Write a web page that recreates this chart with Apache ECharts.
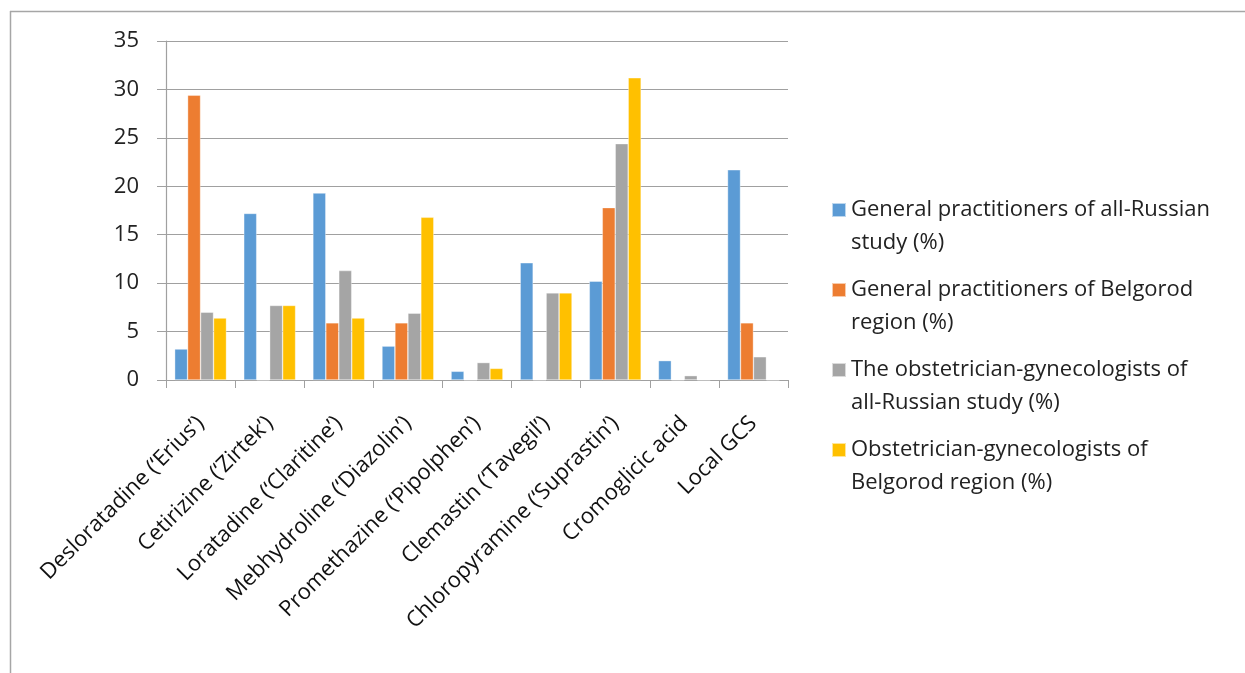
<!DOCTYPE html>
<html><head><meta charset="utf-8">
<script src="https://cdn.jsdelivr.net/npm/echarts@6/dist/echarts.min.js"></script>
<style>html,body{margin:0;padding:0;background:#fff}#c{width:1245px;height:673px}</style>
</head><body><div id="c"></div>
<script>
const categories = ["Desloratadine (\u2018Erius\u2019)", "Cetirizine (\u2018Zirtek\u2019)", "Loratadine (\u2018Claritine\u2019)", "Mebhydroline (\u2018Diazolin\u2019)", "Promethazine (\u2018Pipolphen\u2019)", "Clemastin (\u2018Tavegil\u2019)", "Chloropyramine (\u2018Suprastin\u2019)", "Cromoglicic acid", "Local GCS"];
const seriesNames = ["General practitioners of all-Russian study (%)", "General practitioners of Belgorod region (%)", "The obstetrician-gynecologists of all-Russian study (%)", "Obstetrician-gynecologists of Belgorod region (%)"];
const legendLabels = ["General practitioners of all-Russian\nstudy (%)", "General practitioners of Belgorod\nregion (%)", "The obstetrician-gynecologists of\nall-Russian study (%)", "Obstetrician-gynecologists of\nBelgorod region (%)"];
const gpRussia = [3.2, 17.2, 19.3, 3.5, 0.9, 12.1, 10.2, 2.0, 21.7];
const gpBelgorod = [29.4, 0, 5.9, 5.9, 0, 0, 17.8, 0, 5.9];
const obgynRussia = [7.0, 7.7, 11.3, 6.9, 1.8, 9.0, 24.4, 0.45, 2.4];
const obgynBelgorod = [6.4, 7.7, 6.4, 16.8, 1.2, 9.0, 31.2, 0, 0];
const yTicks = {min: 0, max: 35, interval: 5};
const colors = ["#5B9BD5", "#ED7D31", "#A5A5A5", "#FFC000"];
const values = [gpRussia, gpBelgorod, obgynRussia, obgynBelgorod];

const chart = echarts.init(document.getElementById('c'));
const font = 'Open Sans';
chart.setOption({
  animation: false,
  color: colors,
  grid: {left: 166, top: 41, width: 622, height: 339, containLabel: false},
  legend: {
    orient: 'vertical', left: 831, top: 193.5, padding: 0,
    itemWidth: 14, itemHeight: 47, itemGap: 14,
    icon: 'path://M0,0H14V14H0Z M0,46.99H0.01V47H0Z',
    data: seriesNames,
    formatter: function (n) { return legendLabels[seriesNames.indexOf(n)]; },
    textStyle: {fontFamily: font, fontSize: 22, color: '#222', lineHeight: 33}
  },
  xAxis: {
    type: 'category', data: categories,
    axisLine: {lineStyle: {color: '#a0a0a0', width: 1.2}},
    axisTick: {show: true, length: 8, alignWithLabel: false, lineStyle: {color: '#a0a0a0'}},
    axisLabel: {rotate: 45, interval: 0, margin: 40, fontFamily: font, fontSize: 22, color: '#111'}
  },
  yAxis: {
    type: 'value', min: yTicks.min, max: yTicks.max, interval: yTicks.interval,
    axisLine: {show: true, lineStyle: {color: '#a0a0a0', width: 1.2}},
    axisTick: {show: true, length: 9, lineStyle: {color: '#a0a0a0'}},
    splitLine: {lineStyle: {color: '#a0a0a0', width: 1.2}},
    axisLabel: {margin: 27, fontFamily: font, fontSize: 22, color: '#222'}
  },
  graphic: [
    {type: 'line', shape: {x1: 10, y1: 11.5, x2: 1245, y2: 11.5}, style: {stroke: '#a6a6a6', lineWidth: 1.5}},
    {type: 'line', shape: {x1: 10.5, y1: 11, x2: 10.5, y2: 673}, style: {stroke: '#a6a6a6', lineWidth: 1.5}}
  ],
  series: seriesNames.map((n, i) => ({
    name: n, type: 'bar', data: values[i],
    barGap: '0%', barCategoryGap: '25%',
    itemStyle: {color: colors[i], borderColor: 'rgba(255,255,255,0.6)', borderWidth: 0.6}
  }))
});
</script></body></html>
